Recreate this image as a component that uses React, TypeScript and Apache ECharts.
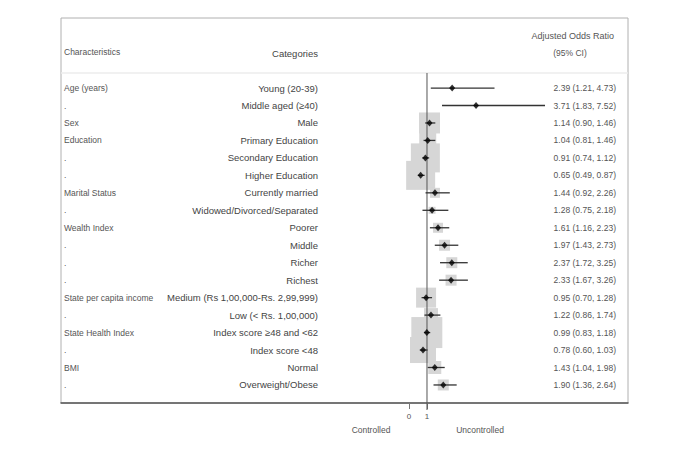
import React, { useEffect, useRef } from "react";
import * as echarts from "echarts";

const characteristics = ["Age (years)", ".", "Sex", "Education", ".", ".", "Marital Status", ".", "Wealth Index", ".", ".", ".", "State per capita income", ".", "State Health Index", ".", "BMI", "."];
const categories = ["Young (20-39)", "Middle aged (\u226540)", "Male", "Primary Education", "Secondary Education", "Higher Education", "Currently married", "Widowed/Divorced/Separated", "Poorer", "Middle", "Richer", "Richest", "Medium (Rs 1,00,000-Rs. 2,99,999)", "Low (< Rs. 1,00,000)", "Index score \u226548 and <62", "Index score <48", "Normal", "Overweight/Obese"];
const aor = [2.39, 3.71, 1.14, 1.04, 0.91, 0.65, 1.44, 1.28, 1.61, 1.97, 2.37, 2.33, 0.95, 1.22, 0.99, 0.78, 1.43, 1.90];
const lower = [1.21, 1.83, 0.90, 0.81, 0.74, 0.49, 0.92, 0.75, 1.16, 1.43, 1.72, 1.67, 0.70, 0.86, 0.83, 0.60, 1.04, 1.36];
const upper = [4.73, 7.52, 1.46, 1.46, 1.12, 0.87, 2.26, 2.18, 2.23, 2.73, 3.25, 3.26, 1.28, 1.74, 1.18, 1.03, 1.98, 2.64];
// weight box sizes (px)
const boxSize = [3, 2, 21, 17, 29, 29, 10, 7, 10, 11, 11, 11, 20, 14, 31, 26, 13, 11];
const xTicks = [0, 1];
const xAxisLabels = ["Controlled", "Uncontrolled"];

const FONT = '"Liberation Sans", Arial, Helvetica, sans-serif';

export default function App() {
  const ref = useRef<HTMLDivElement>(null);
  useEffect(() => {
    if (!ref.current) return;
    const chart = echarts.init(ref.current, undefined, { renderer: "svg" });
    const valueLabels = aor.map((v, i) => `${v.toFixed(2)} (${lower[i].toFixed(2)}, ${upper[i].toFixed(2)})`);
    const idx = aor.map((_, i) => i);
    const frame = { l: 61, t: 18, r: 628, b: 403 };
    const option: any = {
      animation: false,
      backgroundColor: "#fff",
      textStyle: { fontFamily: FONT },
      grid: { left: 61, right: 685 - 628, top: 79.3, bottom: 457 - 393.7, containLabel: false },
      xAxis: {
        type: "value",
        min: -19.22,
        max: 12.105,
        offset: 9.3,
        splitLine: { show: false },
        axisLine: { show: true, lineStyle: { color: "#555", width: 1.5 } },
        axisTick: { show: true, customValues: xTicks, length: 6, lineStyle: { color: "#777" } },
        axisLabel: { customValues: xTicks, margin: 9, fontSize: 8, color: "#555", fontFamily: FONT },
      },
      yAxis: [
        {
          type: "category", data: categories, inverse: true, position: "left",
          axisLine: { show: false, onZero: false }, axisTick: { show: false }, splitLine: { show: false },
          axisLabel: { inside: true, margin: 257, align: "right", fontSize: 9.5, color: "#444", fontFamily: FONT },
        },
        {
          type: "category", data: characteristics, inverse: true, position: "left",
          axisLine: { show: false, onZero: false }, axisTick: { show: false }, splitLine: { show: false },
          axisLabel: { inside: true, margin: 3, align: "left", fontSize: 8.5, color: "#555", fontFamily: FONT },
        },
        {
          type: "category", data: valueLabels, inverse: true, position: "right",
          axisLine: { show: false, onZero: false }, axisTick: { show: false }, splitLine: { show: false },
          axisLabel: { inside: true, margin: 12, align: "right", fontSize: 8.5, color: "#555", fontFamily: FONT },
        },
      ],
      series: [
        {
          type: "scatter", z: 1, yAxisIndex: 0,
          symbol: "rect",
          data: idx.map((i) => ({ value: [aor[i], i], symbolSize: boxSize[i] })),
          itemStyle: { color: "#d6d6d6", opacity: 1 },
          silent: true,
        },
        {
          type: "custom", z: 2, yAxisIndex: 0,
          data: [[1, 0]],
          renderItem: (params: any, api: any) => {
            const p = api.coord([api.value(0), 0]);
            return {
              type: "line",
              shape: { x1: p[0], y1: frame.t + 55, x2: p[0], y2: frame.b + 7 },
              style: { stroke: "#555", lineWidth: 1 },
            };
          },
          silent: true,
        },
        {
          type: "custom", z: 3, yAxisIndex: 0,
          encode: { x: [0, 1], y: 2 },
          data: idx.map((i) => [lower[i], upper[i], i]),
          renderItem: (params: any, api: any) => {
            const a = api.coord([api.value(0), api.value(2)]);
            const b = api.coord([api.value(1), api.value(2)]);
            return {
              type: "line",
              shape: { x1: a[0], y1: a[1], x2: b[0], y2: b[1] },
              style: { stroke: "#333", lineWidth: 1.3 },
            };
          },
          silent: true,
        },
        {
          type: "scatter", z: 4, yAxisIndex: 0,
          symbol: "diamond", symbolSize: [6, 7],
          data: idx.map((i) => [aor[i], i]),
          itemStyle: { color: "#000" },
          silent: true,
        },
      ],
      graphic: [
        {
          type: "rect", silent: true, z: -1,
          shape: { x: frame.l, y: frame.t, width: frame.r - frame.l, height: frame.b - frame.t },
          style: { fill: "none", stroke: "#b0b0b0", lineWidth: 1 },
        },
        {
          type: "line", silent: true,
          shape: { x1: frame.l, y1: 73, x2: frame.r, y2: 73 },
          style: { stroke: "#ececec", lineWidth: 1.5 },
        },
        { type: "text", left: 64, top: 47, style: { text: "Characteristics", fontSize: 8.5, fill: "#555", font: `8.5px ${FONT}` } },
        { type: "text", x: 295, y: 53, style: { text: "Categories", fill: "#444", font: `9.5px ${FONT}`, textAlign: "center", textVerticalAlign: "middle" } },
        { type: "text", x: 614, y: 36, style: { text: "Adjusted Odds Ratio", fill: "#555", font: `9px ${FONT}`, textAlign: "right", textVerticalAlign: "middle" } },
        { type: "text", x: 570, y: 53, style: { text: "(95% CI)", fill: "#555", font: `8.5px ${FONT}`, textAlign: "center", textVerticalAlign: "middle" } },
        { type: "text", x: 371, y: 430, style: { text: xAxisLabels[0], fill: "#555", font: `8.5px ${FONT}`, textAlign: "center", textVerticalAlign: "middle" } },
        { type: "text", x: 480, y: 430, style: { text: xAxisLabels[1], fill: "#555", font: `8.5px ${FONT}`, textAlign: "center", textVerticalAlign: "middle" } },
      ],
    };
    chart.setOption(option);
    return () => chart.dispose();
  }, []);
  return <div ref={ref} style={{ position: "fixed", left: 0, top: 0, width: 685, height: 457 }} />;
}
